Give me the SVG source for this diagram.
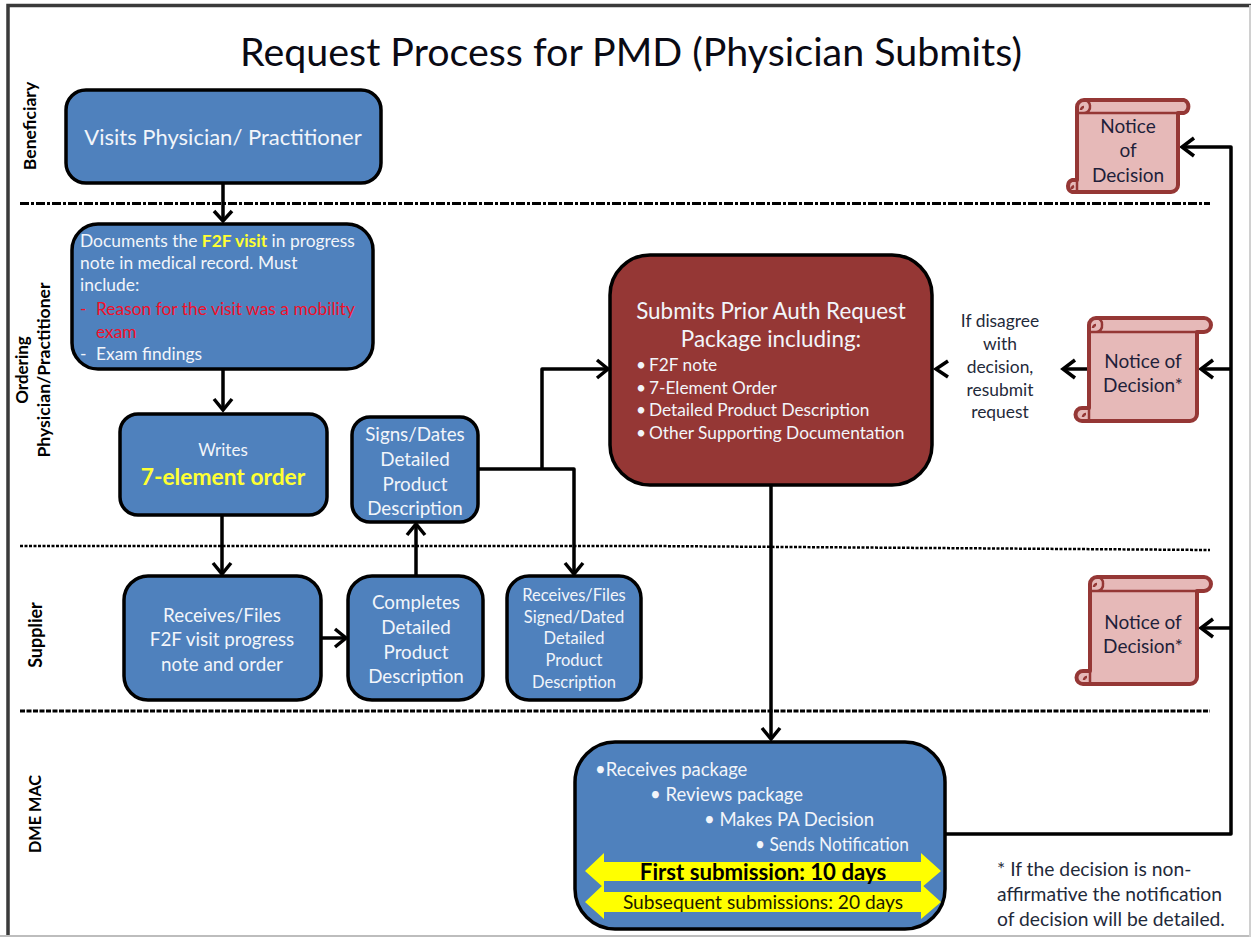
<svg xmlns="http://www.w3.org/2000/svg" width="1251" height="937" viewBox="0 0 1251 937">
<style>
text{font-family:"Lato","Open Sans","Liberation Sans",sans-serif;}
.b{fill:#4F81BD;stroke:#000;stroke-width:3.5}
.w{fill:#F2F5FA;text-anchor:middle;font-size:18.8px}
.l{fill:#F2F5FA;font-size:17.4px}
.r{fill:#F0102A;font-size:17.4px}
.y{fill:#FFFF33;font-weight:700}
.s{fill:#E6B9B8;stroke:#953735;stroke-width:4;stroke-linejoin:round}
.sd{fill:none;stroke:#953735;stroke-width:2.5}
.n{fill:#1F1F3A;font-size:19px;text-anchor:middle}
.d{fill:#1F2A3A;font-size:17.4px;text-anchor:middle}
.lane{fill:#000;font-size:17.6px;text-anchor:middle;font-weight:700}
.c{fill:none;stroke:#000;stroke-width:3.5;stroke-linejoin:round}
.h{fill:none;stroke:#000;stroke-width:3.5;stroke-linejoin:miter}
.arr{fill:#FFFF00;stroke:none}
</style>
<rect x="0" y="0" width="1251" height="937" fill="#fff"/>
<path d="M8 937V5.500H1251" fill="none" stroke="#3A3A3A" stroke-width="3.500"/>
<path d="M0 936H1251" stroke="#BDBDBD" stroke-width="2"/>
<path d="M1250 5V937" stroke="#D0D0D0" stroke-width="2"/>
<text x="631" y="66" font-size="39.4px" text-anchor="middle" fill="#0A0A14">Request Process for PMD (Physician Submits)</text>
<g id="lanes">
<path d="M20 203.500H1210" stroke="#000" stroke-width="3" stroke-dasharray="9 2 3 2" fill="none"/>
<path d="M20 546H650L1210 550" stroke="#000" stroke-width="2.500" stroke-dasharray="3 1.500" fill="none"/>
<path d="M20 711H1210" stroke="#000" stroke-width="3" stroke-dasharray="5 1.500" fill="none"/>
<text class="lane" transform="translate(36 126) rotate(-90)">Beneficiary</text>
<text class="lane" transform="translate(28 370) rotate(-90)" style="font-size:17px">Ordering</text>
<text class="lane" transform="translate(50 370) rotate(-90)">Physician/Practitioner</text>
<text class="lane" transform="translate(42 635) rotate(-90)" style="font-size:18px">Supplier</text>
<text class="lane" transform="translate(41 814) rotate(-90)" style="font-size:16.3px">DME MAC</text>
</g>
<g id="connectors">
<path class="c" d="M223 184V220"/><path class="h" d="M214 211L223 221L232 211"/>
<path class="c" d="M223 370V410"/><path class="h" d="M214 399L223 410L232 399"/>
<path class="c" d="M222 515V574"/><path class="h" d="M213 563L222 574L231 563"/>
<path class="c" d="M321 638H346"/><path class="h" d="M335 629L346 638L335 647"/>
<path class="c" d="M416 576V525"/><path class="h" d="M407 535L416 524L425 535"/>
<path class="c" d="M478 469H574V574"/><path class="h" d="M565 563L574 574L583 563"/>
<path class="c" d="M542 469V369H608"/><path class="h" d="M597 360L608 369L597 378"/>
<path class="c" d="M771 485V739"/><path class="h" d="M762 728L771 739L780 728"/>
<path class="c" d="M945 834H1231V147H1182"/><path class="h" d="M1194 138L1182 147L1194 156"/>
<path class="c" d="M1231 369H1201"/><path class="h" d="M1213 360L1201 369L1213 378"/>
<path class="c" d="M1231 628H1201"/><path class="h" d="M1213 619L1201 628L1213 637"/>
<path class="c" d="M1087 369H1063"/><path class="h" d="M1075 360L1063 369L1075 378"/>
<path class="h" d="M948 361L936 369L948 377"/>
</g>
<g id="visits"><rect class="b" x="66" y="90" width="315" height="93" rx="20"/><text class="w" x="223" y="145" style="font-size:22px">Visits Physician/ Practitioner</text></g>
<g id="documents"><rect class="b" x="72" y="224" width="301" height="145" rx="26"/>
<text class="l" x="80" y="247">Documents the <tspan class="y">F2F visit</tspan> in progress</text>
<text class="l" x="80" y="269">note in medical record.  Must</text>
<text class="l" x="80" y="291">include:</text>
<text class="r" x="80" y="315">-</text><text class="r" x="96" y="315">Reason for the visit was a mobility</text>
<text class="r" x="96" y="338">exam</text>
<text class="l" x="80" y="360">-</text><text class="l" x="96" y="360">Exam findings</text></g>
<g id="writes"><rect class="b" x="120" y="414" width="207" height="101" rx="18"/>
<text class="w" x="223" y="456" style="font-size:17px">Writes</text>
<text class="w y" x="223" y="485" style="font-size:22.8px;fill:#FFFF33">7-element order</text></g>
<g id="signs"><rect class="b" x="352" y="417" width="126" height="105" rx="18"/>
<text class="w" x="415" y="441">Signs/Dates</text><text class="w" x="415" y="466">Detailed</text><text class="w" x="415" y="491">Product</text><text class="w" x="415" y="515">Description</text></g>
<g id="receives1"><rect class="b" x="124" y="576" width="197" height="124" rx="24"/>
<text class="w" x="222" y="622">Receives/Files</text><text class="w" x="222" y="646">F2F visit progress</text><text class="w" x="222" y="671">note and order</text></g>
<g id="completes"><rect class="b" x="348" y="576" width="135" height="124" rx="24"/>
<text class="w" x="416" y="609">Completes</text><text class="w" x="416" y="634">Detailed</text><text class="w" x="416" y="659">Product</text><text class="w" x="416" y="683">Description</text></g>
<g id="receives2"><rect class="b" x="507" y="576" width="134" height="124" rx="22"/>
<text class="w" x="574" y="601" style="font-size:16.500px">Receives/Files</text><text class="w" x="574" y="623" style="font-size:16.500px">Signed/Dated</text><text class="w" x="574" y="644" style="font-size:16.500px">Detailed</text><text class="w" x="574" y="666" style="font-size:16.500px">Product</text><text class="w" x="574" y="688" style="font-size:16.500px">Description</text></g>
<g id="submit"><rect x="610" y="255" width="322" height="230" rx="40" fill="#953735" stroke="#000" stroke-width="3.500"/>
<text class="w" x="771" y="319" style="font-size:22.4px">Submits Prior Auth Request</text>
<text class="w" x="771" y="347" style="font-size:22.4px">Package including:</text>
<g class="l" style="font-size:17.3px;fill:#F2F5FA">
<text x="636" y="371">•</text><text x="649" y="371">F2F note</text>
<text x="636" y="394">•</text><text x="649" y="394">7-Element Order</text>
<text x="636" y="416">•</text><text x="649" y="416">Detailed Product Description</text>
<text x="636" y="439">•</text><text x="649" y="439">Other Supporting Documentation</text>
</g></g>
<g id="dme"><rect class="b" x="575" y="742" width="370" height="187" rx="40"/>
<g style="font-size:18.5px;fill:#F2F5FA">
<text x="595" y="776">•Receives package</text>
<text x="650" y="801">• Reviews package</text>
<text x="704" y="826">• Makes PA Decision</text>
<text x="755" y="851" textLength="154" lengthAdjust="spacingAndGlyphs">• Sends Notification</text></g>
<path class="arr" d="M585 871L604 853V862H921V853L941 871L921 888V881H604V888Z"/>
<path class="arr" d="M585 902L604 884V892H921V884L941 902L921 919V912H604V919Z"/>
<text x="763" y="880" text-anchor="middle" font-weight="700" font-size="22.2px" fill="#000">First submission: 10 days</text>
<text x="763" y="909" text-anchor="middle" font-size="19.2px" fill="#1A1A00">Subsequent submissions: 20 days</text></g>
<g id="notice1">
<path class="s" d="M1084 100H1184A7 7 0 0 1 1184 113H1178V185A7 7 0 0 1 1171 192H1072A6.500 6.500 0 0 1 1072 180H1077V107A7 7 0 0 1 1084 100Z"/>
<path class="sd" d="M1077 113H1178M1084 113A6 6 0 0 0 1090 106A6 6 0 0 0 1084 100M1077 192V180M1084 107A3 3 0 0 0 1081 110M1074 186A3 3 0 0 0 1072 189"/>
<text class="n" x="1128" y="133">Notice</text><text class="n" x="1128" y="157">of</text><text class="n" x="1128" y="182">Decision</text></g>
<g id="notice2">
<path class="s" d="M1096 318H1204A7 7 0 0 1 1204 332H1197V414A7 7 0 0 1 1190 421H1082A6.500 6.500 0 0 1 1082 408H1089V325A7 7 0 0 1 1096 318Z"/>
<path class="sd" d="M1089 332H1197M1096 332A6 6 0 0 0 1102 325A6 6 0 0 0 1096 318M1089 421V408M1096 325A3 3 0 0 0 1093 328M1086 414A3 3 0 0 0 1083 417"/>
<text class="n" x="1143" y="368">Notice of</text><text class="n" x="1143" y="392">Decision*</text></g>
<g id="notice3">
<path class="s" d="M1097 577H1204A7 7 0 0 1 1204 591H1197V677A7 7 0 0 1 1190 684H1083A6.500 6.500 0 0 1 1083 671H1090V584A7 7 0 0 1 1097 577Z"/>
<path class="sd" d="M1090 591H1197M1097 591A6 6 0 0 0 1103 584A6 6 0 0 0 1097 577M1090 684V671M1097 584A3 3 0 0 0 1094 587M1087 677A3 3 0 0 0 1084 680"/>
<text class="n" x="1143" y="629">Notice of</text><text class="n" x="1143" y="653">Decision*</text></g>
<g id="resubmit"><text class="d" x="1000" y="327">If disagree</text><text class="d" x="1000" y="350">with</text><text class="d" x="1000" y="373">decision,</text><text class="d" x="1000" y="396">resubmit</text><text class="d" x="1000" y="418">request</text></g>
<g id="footnote" style="font-size:19.3px;fill:#1F2A3A"><text x="997" y="876">* If the decision is non-</text><text x="997" y="901">affirmative the notification</text><text x="997" y="926">of decision will be detailed.</text></g>
</svg>
